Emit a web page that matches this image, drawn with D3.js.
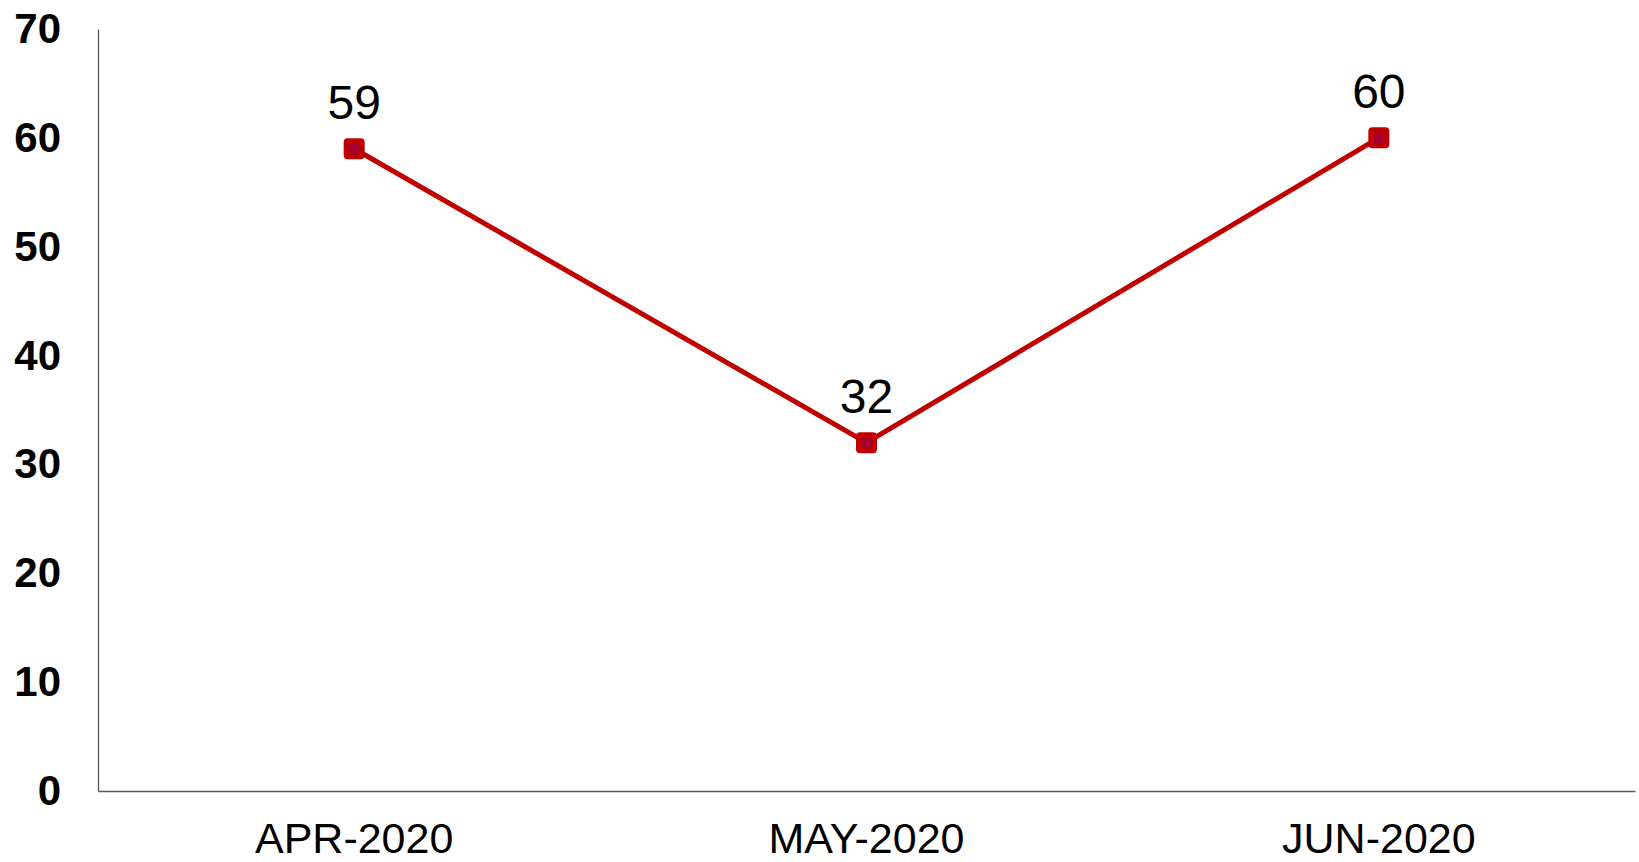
<!DOCTYPE html>
<html><head><meta charset="utf-8">
<script src="https://cdn.jsdelivr.net/npm/d3@7"></script>
<style>html,body{margin:0;padding:0;background:#fff;}svg{display:block;}</style>
</head><body>
<script>
const categories = ["APR-2020", "MAY-2020", "JUN-2020"];
const values = [59, 32, 60];
const yTicks = [0, 10, 20, 30, 40, 50, 60, 70];

const W = 1639, H = 862;
const mLeft = 98, mRight = 1635, mTop = 29, mBottom = 791;
const svg = d3.select("body").append("svg").attr("width", W).attr("height", H);

const x = d3.scaleBand().domain(categories).range([mLeft, mRight]).padding(0);
const y = d3.scaleLinear().domain([0, 70]).range([mBottom, mTop]);

// axes
const yAxis = svg.append("g").attr("transform", `translate(${mLeft},0)`)
  .call(d3.axisLeft(y).tickValues(yTicks).tickSize(0).tickPadding(37));
yAxis.select(".domain").attr("stroke", "#595959").attr("stroke-width", 1.3);
yAxis.selectAll("text").attr("font-family", "Liberation Sans, Arial, sans-serif")
  .attr("font-size", 42).attr("font-weight", "bold").attr("fill", "#000");

const xAxis = svg.append("g").attr("transform", `translate(0,${mBottom})`)
  .call(d3.axisBottom(x).tickSize(0).tickPadding(0));
xAxis.select(".domain").attr("stroke", "#595959").attr("stroke-width", 1.3);
xAxis.selectAll("text").attr("font-family", "Liberation Sans, Arial, sans-serif")
  .attr("font-size", 43).attr("fill", "#000").attr("dy", null).attr("y", 62);

const cx = d => x(d) + x.bandwidth() / 2;

const line = d3.line().x((d, i) => cx(categories[i])).y(d => y(d));
svg.append("path").datum(values).attr("d", line)
  .attr("fill", "none").attr("stroke", "#c00000").attr("stroke-width", 5);

const ms = 16;
svg.selectAll("rect.m").data(values).enter().append("rect")
  .attr("x", (d, i) => cx(categories[i]) - ms / 2)
  .attr("y", d => y(d) - ms / 2)
  .attr("width", ms).attr("height", ms).attr("rx", 1.5)
  .attr("fill", "#a5002b").attr("stroke", "#c00000").attr("stroke-width", 5)
  .attr("stroke-linejoin", "round");

svg.selectAll("text.v").data(values).enter().append("text")
  .attr("x", (d, i) => cx(categories[i]))
  .attr("y", d => y(d) - 30)
  .attr("text-anchor", "middle")
  .attr("font-family", "Liberation Sans, Arial, sans-serif")
  .attr("font-size", 48).attr("fill", "#000")
  .text(d => d);
</script>
</body></html>
